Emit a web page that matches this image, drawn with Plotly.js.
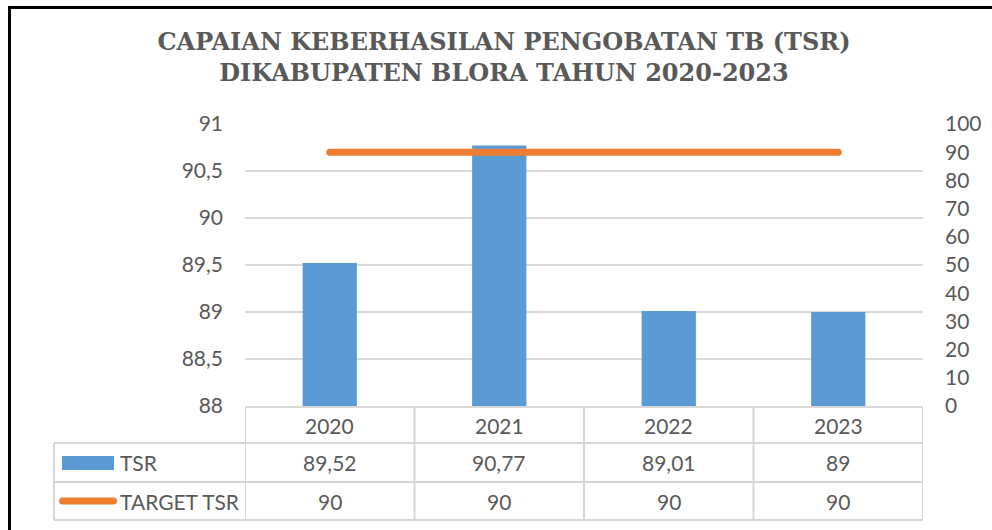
<!DOCTYPE html>
<html>
<head>
<meta charset="utf-8">
<script src="https://cdn.plot.ly/plotly-3.0.1.min.js"></script>
<style>
  html, body { margin: 0; padding: 0; background: #fff; }
  #chart { width: 992px; height: 530px; }
  .scatterlayer path.js-line { stroke-linecap: round; }
</style>
</head>
<body>
<div id="chart"></div>
<script>
// ---- data ----
var years = ['2020', '2021', '2022', '2023'];
var tsr = [89.52, 90.77, 89.01, 89];
var target = [90, 90, 90, 90];
var seriesNames = ['TSR', 'TARGET TSR'];
var titleLines = ['CAPAIAN KEBERHASILAN PENGOBATAN TB (TSR)', 'DIKABUPATEN BLORA TAHUN 2020-2023'];

// ---- styles ----
var blue = '#5b9bd5';
var orange = '#ed7d31';
var textColor = '#595959';
var gridColor = '#d9d9d9';
var tableColor = '#d6d6d6';
var labelFont = { family: 'Lato, "Open Sans", sans-serif', size: 21, color: textColor };

// geometry helpers (page pixels -> paper)
var W = 992, H = 530;
var ML = 245, MR = 69, MT = 124, MB = 124;
var PW = W - ML - MR, PH = H - MT - MB;
function px(x) { return (x - ML) / PW; }
function py(y) { return (H - MB - y) / PH; }

function fmt(v) { return String(v).replace('.', ','); }

var traces = [
  {
    type: 'bar', x: years, y: tsr, name: seriesNames[0],
    marker: { color: blue }, width: 0.32, yaxis: 'y', hoverinfo: 'skip'
  },
  {
    type: 'scatter', mode: 'lines', x: years, y: target, name: seriesNames[1],
    line: { color: orange, width: 7 }, yaxis: 'y2', hoverinfo: 'skip'
  }
];

var shapes = [];
var annotations = [];

// outer frame (top & left black border)
shapes.push({ type: 'line', xref: 'paper', yref: 'paper', x0: px(9.5), x1: px(9.5), y0: py(540), y1: py(7.5), line: { color: '#000', width: 3 } });
shapes.push({ type: 'line', xref: 'paper', yref: 'paper', x0: px(8), x1: px(1000), y0: py(7.5), y1: py(7.5), line: { color: '#000', width: 3 } });

// table rows (pixel y of lines)
var rowTop = 407, row1 = 443, row2 = 482, rowBot = 520, tableLeft = 54;
[row1, row2, rowBot].forEach(function (yy) {
  shapes.push({ type: 'line', xref: 'paper', yref: 'paper', x0: px(tableLeft), x1: 1, y0: py(yy), y1: py(yy), line: { color: tableColor, width: 2 } });
});
for (var i = 0; i <= years.length; i++) {
  shapes.push({ type: 'line', xref: 'x', yref: 'paper', x0: i - 0.5, x1: i - 0.5, y0: py(rowTop), y1: py(rowBot), line: { color: tableColor, width: 2 } });
}
shapes.push({ type: 'line', xref: 'paper', yref: 'paper', x0: px(tableLeft), x1: px(tableLeft), y0: py(row1), y1: py(rowBot), line: { color: tableColor, width: 2 } });

// legend keys
shapes.push({ type: 'rect', xref: 'paper', yref: 'paper', x0: px(62), x1: px(114), y0: py(456), y1: py(470), fillcolor: blue, line: { width: 0 } });
shapes.push({ type: 'line', xref: 'paper', yref: 'paper', x0: px(62.5), x1: px(113.5), y0: py(501), y1: py(501), line: { color: orange, width: 7 } });

// table texts
var rowCenters = [(rowTop + row1) / 2, (row1 + row2) / 2, (row2 + rowBot) / 2];
years.forEach(function (yr, k) {
  annotations.push({ xref: 'x', yref: 'paper', x: k, y: py(rowCenters[0]), text: yr, showarrow: false, font: labelFont, xanchor: 'center', yanchor: 'middle' });
  annotations.push({ xref: 'x', yref: 'paper', x: k, y: py(rowCenters[1]), text: fmt(tsr[k]), showarrow: false, font: labelFont, xanchor: 'center', yanchor: 'middle' });
  annotations.push({ xref: 'x', yref: 'paper', x: k, y: py(rowCenters[2]), text: fmt(target[k]), showarrow: false, font: labelFont, xanchor: 'center', yanchor: 'middle' });
});
annotations.push({ xref: 'paper', yref: 'paper', x: px(118), y: py(rowCenters[1]), text: seriesNames[0], showarrow: false, font: labelFont, xanchor: 'left', yanchor: 'middle' });
annotations.push({ xref: 'paper', yref: 'paper', x: px(118), y: py(rowCenters[2]), text: seriesNames[1], showarrow: false, font: labelFont, xanchor: 'left', yanchor: 'middle' });

var layout = {
  width: W, height: H,
  margin: { l: ML, r: MR, t: MT, b: MB, pad: 0 },
  paper_bgcolor: '#fff', plot_bgcolor: '#fff',
  separators: ',.',
  showlegend: false,
  title: {
    text: titleLines.join('<br>'),
    xref: 'container', x: 504 / W, xanchor: 'center',
    yref: 'container', y: 1 - 50 / H, yanchor: 'middle',
    font: { family: '"DejaVu Serif", serif', size: 24, color: textColor, weight: 'bold' }
  },
  xaxis: {
    type: 'category', range: [-0.5, 3.5], showticklabels: false, ticks: '',
    showgrid: false, zeroline: false, showline: true, linecolor: gridColor, linewidth: 2, fixedrange: true
  },
  yaxis: {
    range: [88, 91], dtick: 0.5, tick0: 88, showgrid: true, gridcolor: gridColor, gridwidth: 2,
    zeroline: false, showline: false, ticks: '', tickfont: labelFont, ticklabelstandoff: 21, fixedrange: true
  },
  yaxis2: {
    overlaying: 'y', side: 'right', range: [0, 100], dtick: 10, tick0: 0, showgrid: false,
    zeroline: false, showline: false, ticks: '', tickfont: labelFont, ticklabelstandoff: 21, fixedrange: true
  },
  shapes: shapes,
  annotations: annotations
};

Plotly.newPlot('chart', traces, layout, { staticPlot: true, displayModeBar: false }).then(function () {
  document.querySelectorAll('.shapelayer path').forEach(function (p) {
    var s = p.style.stroke || p.getAttribute('stroke') || '';
    if (s.indexOf('237, 125, 49') >= 0 || s.toLowerCase() === orange) {
      p.style.strokeLinecap = 'round';
    }
  });
});
</script>
</body>
</html>
